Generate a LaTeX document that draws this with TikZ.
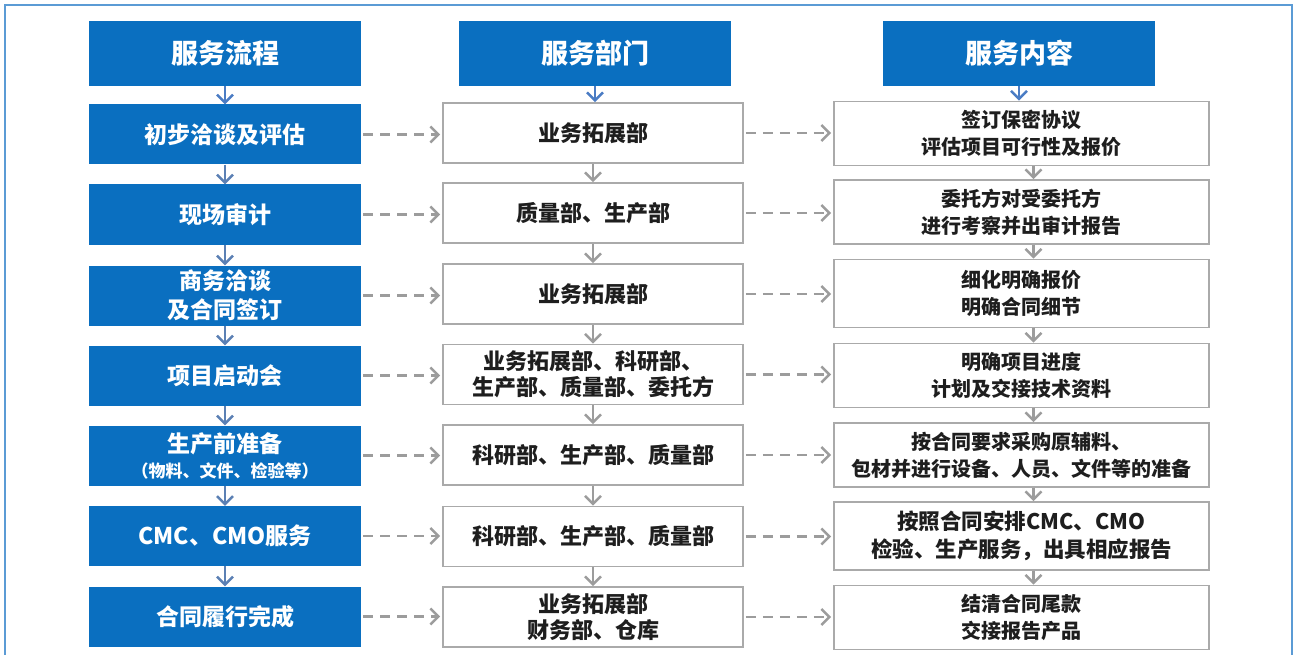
\documentclass[tikz,border=0pt]{standalone}
\usepackage{fontspec}
\setmainfont{Noto Sans CJK SC}
\usetikzlibrary{arrows.meta}
\definecolor{myblue}{HTML}{0A6FC0}
\definecolor{framec}{HTML}{5B9BD5}
\definecolor{arrblue}{HTML}{4A7CC4}
\definecolor{arrsteel}{HTML}{5B80B4}
\definecolor{boxgray}{HTML}{AAAAAA}
\definecolor{arrgray}{HTML}{9C9C9C}
\definecolor{txt}{HTML}{1E1E1E}
\tikzset{
  hdr/.style={fill=myblue, text=white, font=\fontsize{27}{30}\selectfont\bfseries,
    minimum width=272pt, minimum height=65pt, inner sep=0pt},
  lbox/.style={fill=myblue, text=white, font=\fontsize{23}{29}\selectfont\bfseries,
    minimum width=272pt, minimum height=60pt, inner sep=0pt, align=center},
  mbox/.style={draw=boxgray, line width=1.8pt, fill=white, text=txt,
    font=\fontsize{22}{26}\selectfont\bfseries,
    minimum width=300pt, minimum height=60pt, inner sep=0pt, align=center},
  rbox/.style={draw=boxgray, line width=1.8pt, fill=white, text=txt,
    font=\fontsize{20}{27}\selectfont\bfseries,
    minimum width=375pt, minimum height=64pt, inner sep=0pt, align=center},
  tipv/.tip={Straight Barb[length=8pt,width=16pt]},
  harrow/.style={draw=arrblue, line width=2.4pt, -tipv},
  larrow/.style={draw=arrsteel, line width=2.4pt, -tipv},
  garrow/.style={draw=arrgray, line width=2.4pt, -tipv},
  darrow/.style={draw=arrgray, line width=2.4pt, dash pattern=on 10pt off 7pt,
    -{Straight Barb[length=8pt,width=16pt]}, shorten >=2pt, shorten <=2pt},
}
\begin{document}
\begin{tikzpicture}[x=1pt,y=1pt]
\useasboundingbox (0,0) rectangle (1295,-655);
\fill[white] (0,0) rectangle (1295,-655);
\draw[framec, line width=2.5pt] (5,-660) -- (5,-5) -- (1292,-5) -- (1292,-660);

% headers
\node[hdr] (h1) at (225,-53.5) {服务流程};
\node[hdr] (h2) at (595,-53.5) {服务部门};
\node[hdr] (h3) at (1019,-53.5) {服务内容};

% left column
\node[lbox] (l1) at (225,-134.5) {初步洽谈及评估};
\node[lbox] (l2) at (225,-214.5) {现场审计};
\node[lbox] (l3) at (225,-295.5) {商务洽谈\\及合同签订};
\node[lbox] (l4) at (225,-375.5) {项目启动会};
\node[lbox, font=\fontsize{23}{25}\selectfont\bfseries] (l5) at (225,-455.5) {生产前准备\\{\fontsize{17}{19}\selectfont （物料、文件、检验等）}};
\node[lbox] (l6) at (225,-536) {CMC、CMO服务};
\node[lbox] (l7) at (225,-616.5) {合同履行完成};

% middle column
\node[mbox] (m1) at (593,-133) {业务拓展部};
\node[mbox] (m2) at (593,-213) {质量部、生产部};
\node[mbox] (m3) at (593,-294) {业务拓展部};
\node[mbox] (m4) at (593,-374.5) {业务拓展部、科研部、\\生产部、质量部、委托方};
\node[mbox] (m5) at (593,-455) {科研部、生产部、质量部};
\node[mbox] (m6) at (593,-536.5) {科研部、生产部、质量部};
\node[mbox] (m7) at (593,-617) {业务拓展部\\财务部、仓库};

% right column
\node[rbox] (r1) at (1021.5,-133.5) {签订保密协议\\评估项目可行性及报价};
\node[rbox] (r2) at (1021.5,-212) {委托方对受委托方\\进行考察并出审计报告};
\node[rbox, minimum height=68pt] (r3) at (1021.5,-293.5) {细化明确报价\\明确合同细节};
\node[rbox] (r4) at (1021.5,-375.5) {明确项目进度\\计划及交接技术资料};
\node[rbox] (r5) at (1021.5,-455) {按合同要求采购原辅料、\\包材并进行设备、人员、文件等的准备};
\node[rbox, minimum height=68pt, font=\fontsize{21.5}{28}\selectfont\bfseries] (r6) at (1021.5,-536) {按照合同安排CMC、CMO\\检验、生产服务，出具相应报告};
\node[rbox] (r7) at (1021.5,-617.5) {结清合同尾款\\交接报告产品};

% header arrows
\draw[harrow] (h1.south) -- (l1.north);
\draw[harrow] (h2.south) -- (h2.south |- m1.north);
\draw[harrow] (h3.south) -- (h3.south |- r1.north);

% vertical arrows
\foreach \a/\b in {l1/l2,l2/l3,l3/l4,l4/l5,l5/l6,l6/l7}
  \draw[larrow] (\a.south) -- (\b.north);
\foreach \a/\b in {m1/m2,m2/m3,m3/m4,m4/m5,m5/m6,m6/m7}
  \draw[garrow] (\a.south) -- (\b.north);
\foreach \a/\b in {r1/r2,r2/r3,r3/r4,r4/r5,r5/r6,r6/r7}
  \draw[garrow] ([xshift=12pt]\a.south) -- ([xshift=12pt]\b.north);

% dashed arrows
\foreach \i in {1,...,7}{
  \draw[darrow] (l\i.east) -- (l\i.east -| m\i.west);
  \draw[darrow] (m\i.east) -- (m\i.east -| r\i.west);
}
\end{tikzpicture}
\end{document}
